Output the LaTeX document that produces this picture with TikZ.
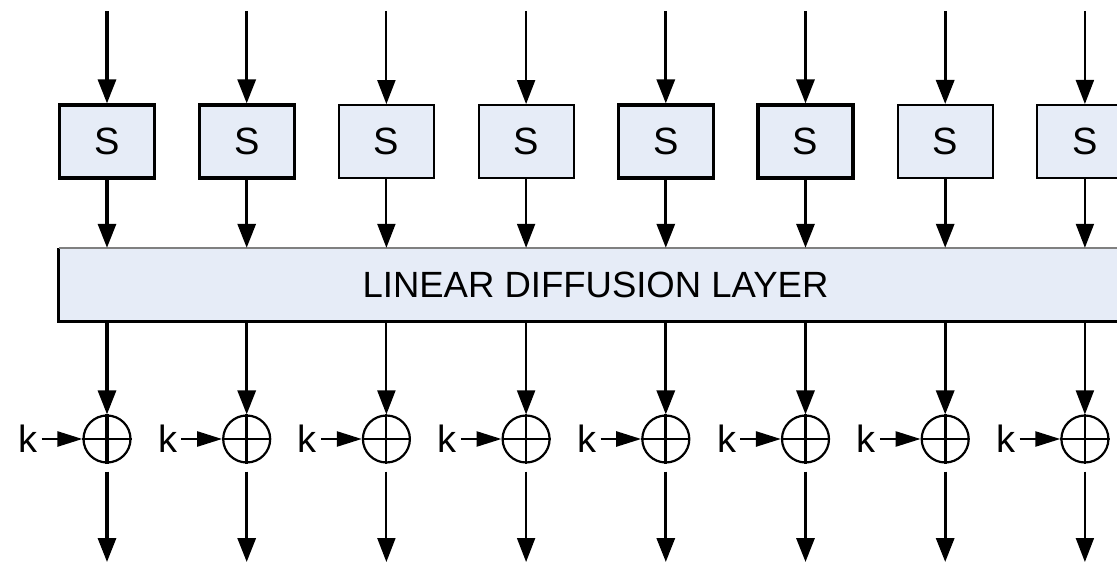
\documentclass[tikz,border=0pt]{standalone}
\usepackage{fontspec}
\setmainfont{Liberation Sans}
\usetikzlibrary{arrows.meta}
\definecolor{boxblue}{RGB}{230,236,247}

\begin{document}
\begin{tikzpicture}[x=1pt, y=-1pt, >={Triangle[length=24pt,width=18pt]},
  every node/.style={font=\fontsize{38}{42}\selectfont},
  sbox/.style={draw, fill=boxblue, minimum width=95pt, minimum height=73pt,
  inner sep=0pt},
  xorc/.style={draw, circle, minimum size=47pt, inner sep=0pt, line width=2.2pt}]
  \useasboundingbox (0,0) rectangle (1117,564);
  \clip (0,0) rectangle (1117,564);
  % diffusion layer, cut off at the right edge
  \node[sbox, draw=none, minimum width=1073pt, font=\fontsize{36.5}{40}\selectfont]
    (ldl) at (595.5,284.5) {LINEAR DIFFUSION LAYER};
  \draw[line width=3pt] (ldl.north west) -- (ldl.south west) -- (ldl.south east);
  \draw[line width=1.5pt, gray] (ldl.north west) -- (ldl.north east);
  % one column per S-box
  \foreach \i/\w/\b in {1/3.2pt/3.2pt, 2/3.2pt/3.2pt, 3/2pt/1.8pt, 4/2pt/1.8pt,
    5/3.2pt/3.2pt, 6/3.2pt/3.2pt, 7/3.2pt/2pt, 8/2pt/2pt} {
    \pgfmathsetmacro\xc{107+139.7*(\i-1)}
    \coordinate (in\i) at (\xc,11);
    \coordinate (out\i) at (\xc,562);
    \node[sbox, line width=\b] (s\i) at (\xc,141.5) {S};
    \node[xorc] (x\i) at (\xc,439) {};
    \node[inner sep=4pt] (k\i) at (\xc-79,439) {k};
    \draw[line width=\w] (x\i.north) -- (x\i.south);
    \draw[line width=2.2pt] (x\i.west) -- (x\i.east);
    \draw[->, line width=\w] (in\i) -- (s\i);
    \draw[->, line width=\w] (s\i) -- (s\i |- ldl.north);
    \draw[->, line width=\w] (s\i |- ldl.south) -- (x\i);
    \draw[->, line width=\w, shorten <=8pt] (x\i) -- (out\i);
    \draw[-{Triangle[length=25pt,width=15pt]}, line width=2.5pt] (k\i) -- (x\i);
  }
\end{tikzpicture}
\end{document}
